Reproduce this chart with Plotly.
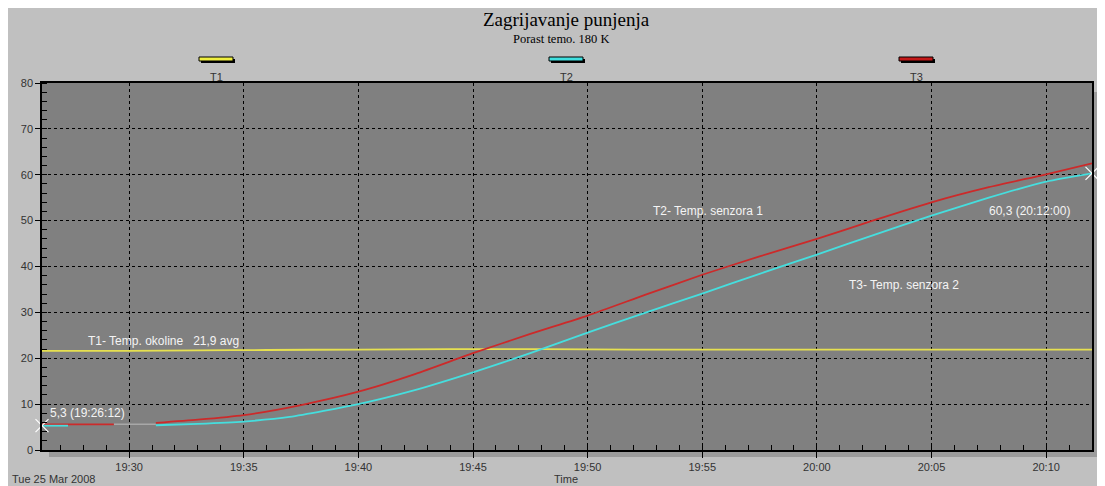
import plotly.graph_objects as go

DAY = "2008-03-25 "

# T1 - ambient temperature
t1_time = ["19:26:12", "19:30:00", "19:33:00", "19:36:00", "19:40:00", "19:44:00",
           "19:48:00", "19:52:00", "19:56:00", "20:00:00", "20:05:00", "20:10:00", "20:12:00"]
t1_vals = [21.6, 21.6, 21.7, 21.8, 21.9, 22.0, 22.0, 21.9, 21.9, 21.9, 21.9, 21.9, 21.9]

# T2 - sensor 1 (cyan)
t2_time = ["19:26:12", "19:27:20", None, "19:31:10", "19:33:00", "19:35:00", "19:37:00",
           "19:40:00", "19:42:30", "19:45:00", "19:47:30", "19:50:00", "19:52:30",
           "19:55:00", "19:57:30", "20:00:00", "20:02:30", "20:05:00", "20:07:30",
           "20:10:00", "20:12:00"]
t2_vals = [5.3, 5.3, None, 5.4, 5.7, 6.2, 7.2, 10.0, 13.1, 16.9, 21.1, 25.6, 29.9,
           34.1, 38.4, 42.6, 46.9, 51.1, 55.0, 58.5, 60.3]

# T3 - sensor 2 (red)
t3_time = ["19:26:12", "19:29:20", None, "19:31:10", "19:33:00", "19:35:00", "19:37:30",
           "19:40:00", "19:42:30", "19:45:00", "19:47:30", "19:50:00", "19:52:30",
           "19:55:00", "19:57:30", "20:00:00", "20:02:30", "20:05:00", "20:07:30",
           "20:10:00", "20:12:00"]
t3_vals = [5.6, 5.6, None, 5.9, 6.6, 7.6, 9.8, 12.7, 16.6, 21.1, 25.3, 29.3, 33.8,
           38.2, 42.2, 46.0, 50.1, 54.0, 57.3, 60.1, 62.5]

# T3 faint segment (rendered grey in the original)
t3g_time = ["19:29:20", "19:31:10"]
t3g_vals = [5.6, 5.6]

end_time = ["19:26:12", "20:12:00"]
end_vals = [5.3, 60.3]

series_names = ["T1", "T2", "T3"]
series_colors = ["#e6e050", "#45dede", "#cc2a2a"]
legend_fill = ["#f0f040", "#40e0e0", "#c41818"]


def ts(lst):
    return [DAY + t if t else None for t in lst]


# page pixels (reference) -> paper; the page body adds an 8px offset
OFF = 8
L, R, T, B = 42 - OFF, 1092 - OFF, 83 - OFF, 450 - OFF
W, H = R - L, B - T


def px(x):
    return (x - OFF - L) / W


def py(y):
    return (B - (y - OFF)) / H


fig = go.Figure()
fig.add_trace(go.Scatter(x=ts(t1_time), y=t1_vals, mode="lines", name="T1",
                         line=dict(color=series_colors[0], width=1.8, shape="spline", smoothing=0.6)))
fig.add_trace(go.Scatter(x=ts(t3g_time), y=t3g_vals, mode="lines", name="T3 gap",
                         line=dict(color="#a8a8a8", width=1.5)))
fig.add_trace(go.Scatter(x=ts(t3_time), y=t3_vals, mode="lines", name="T3",
                         line=dict(color=series_colors[2], width=1.8, shape="spline", smoothing=0.6)))
fig.add_trace(go.Scatter(x=ts(t2_time), y=t2_vals, mode="lines", name="T2",
                         line=dict(color=series_colors[1], width=1.8, shape="spline", smoothing=0.6)))
fig.add_trace(go.Scatter(x=ts(end_time), y=end_vals, mode="markers", name="ends",
                         marker=dict(symbol="x-thin-open", size=13, color="white",
                                     line=dict(color="white", width=1.2)),
                         cliponaxis=False))

shapes = [
    dict(type="rect", xref="paper", yref="paper", layer="below",
         x0=px(49), x1=px(1099), y0=py(457), y1=py(92),
         fillcolor="#9c9c9c", line=dict(width=0)),
    dict(type="rect", xref="paper", yref="paper", layer="below",
         x0=0, x1=1, y0=0, y1=1,
         fillcolor="#808080", line=dict(width=0)),
]


def pann(text, x, y, font, xanchor="center"):
    return dict(text=text, x=px(x), y=py(y), xref="paper", yref="paper",
                xanchor=xanchor, yanchor="middle", showarrow=False, font=font)


sans = dict(family="Liberation Sans", size=11, color="#333")
annotations = [
    pann("Zagrijavanje punjenja", 566, 19,
         dict(family="Liberation Serif", size=19, color="black")),
    pann("Porast temo. 180 K", 561, 39,
         dict(family="Liberation Serif", size=12.5, color="black")),
    pann("Time", 566, 479, sans),
    pann("Tue 25 Mar 2008", 10, 479, sans, xanchor="left"),
]

for i, (nm, fc) in enumerate(zip(series_names, legend_fill)):
    cx = 216 + 350 * i
    shapes.append(dict(type="rect", xref="paper", yref="paper",
                       x0=px(cx - 15), x1=px(cx + 19), y0=py(63), y1=py(59),
                       fillcolor="black", line=dict(width=0)))
    shapes.append(dict(type="rect", xref="paper", yref="paper",
                       x0=px(cx - 17), x1=px(cx + 17), y0=py(61), y1=py(57),
                       fillcolor=fc, line=dict(color="black", width=1)))
    annotations.append(pann(nm, cx, 77, sans))

lbl_font = dict(family="Liberation Sans", size=12, color="#f4f4f4")
for txt, xt, yv in [("T1- Temp. okoline \u00a0\u00a021,9 avg", "19:28:08", 23.7),
                    ("T2- Temp. senzora 1", "19:52:47", 52.0),
                    ("T3- Temp. senzora 2", "20:01:18", 35.9),
                    ("60,3 (20:12:00)", "20:07:26", 52.0),
                    ("5,3 (19:26:12)", "19:26:28", 8.0)]:
    annotations.append(dict(text=txt, x=DAY + xt, y=yv, xref="x", yref="y",
                            xanchor="left", yanchor="middle", showarrow=False,
                            font=lbl_font))

fig.update_layout(
    width=1105, height=486,
    margin=dict(l=L, r=1105 - R, t=T, b=486 - B, autoexpand=False),
    paper_bgcolor="#c0c0c0", plot_bgcolor="rgba(0,0,0,0)",
    showlegend=False,
    shapes=shapes, annotations=annotations,
    font=dict(family="Liberation Sans", size=11, color="#333"),
)
fig.update_xaxes(
    type="date", range=[DAY + "19:26:12", DAY + "20:12:00"],
    tick0=DAY + "19:30:00", dtick=300000, tickformat="%H:%M",
    ticks="outside", ticklen=6, tickcolor="black", tickwidth=1,
    showgrid=True, gridcolor="black", gridwidth=1, griddash="3px,3px",
    showline=True, linecolor="black", linewidth=1.5, mirror=True,
    zeroline=False,
    minor=dict(dtick=60000, ticks="inside", ticklen=5, tickcolor="black", showgrid=False),
    tickfont=dict(family="Liberation Sans", size=11, color="#333"),
)
fig.update_yaxes(
    range=[0, 80], dtick=10,
    ticks="outside", ticklen=5, tickcolor="black", tickwidth=1,
    showgrid=True, gridcolor="black", gridwidth=1, griddash="3px,3px",
    showline=True, linecolor="black", linewidth=1.5, mirror=True,
    zeroline=False,
    minor=dict(dtick=2, ticks="inside", ticklen=5, tickcolor="black", showgrid=False),
    tickfont=dict(family="Liberation Sans", size=11, color="#333"),
)

fig.write_html("out.html")
